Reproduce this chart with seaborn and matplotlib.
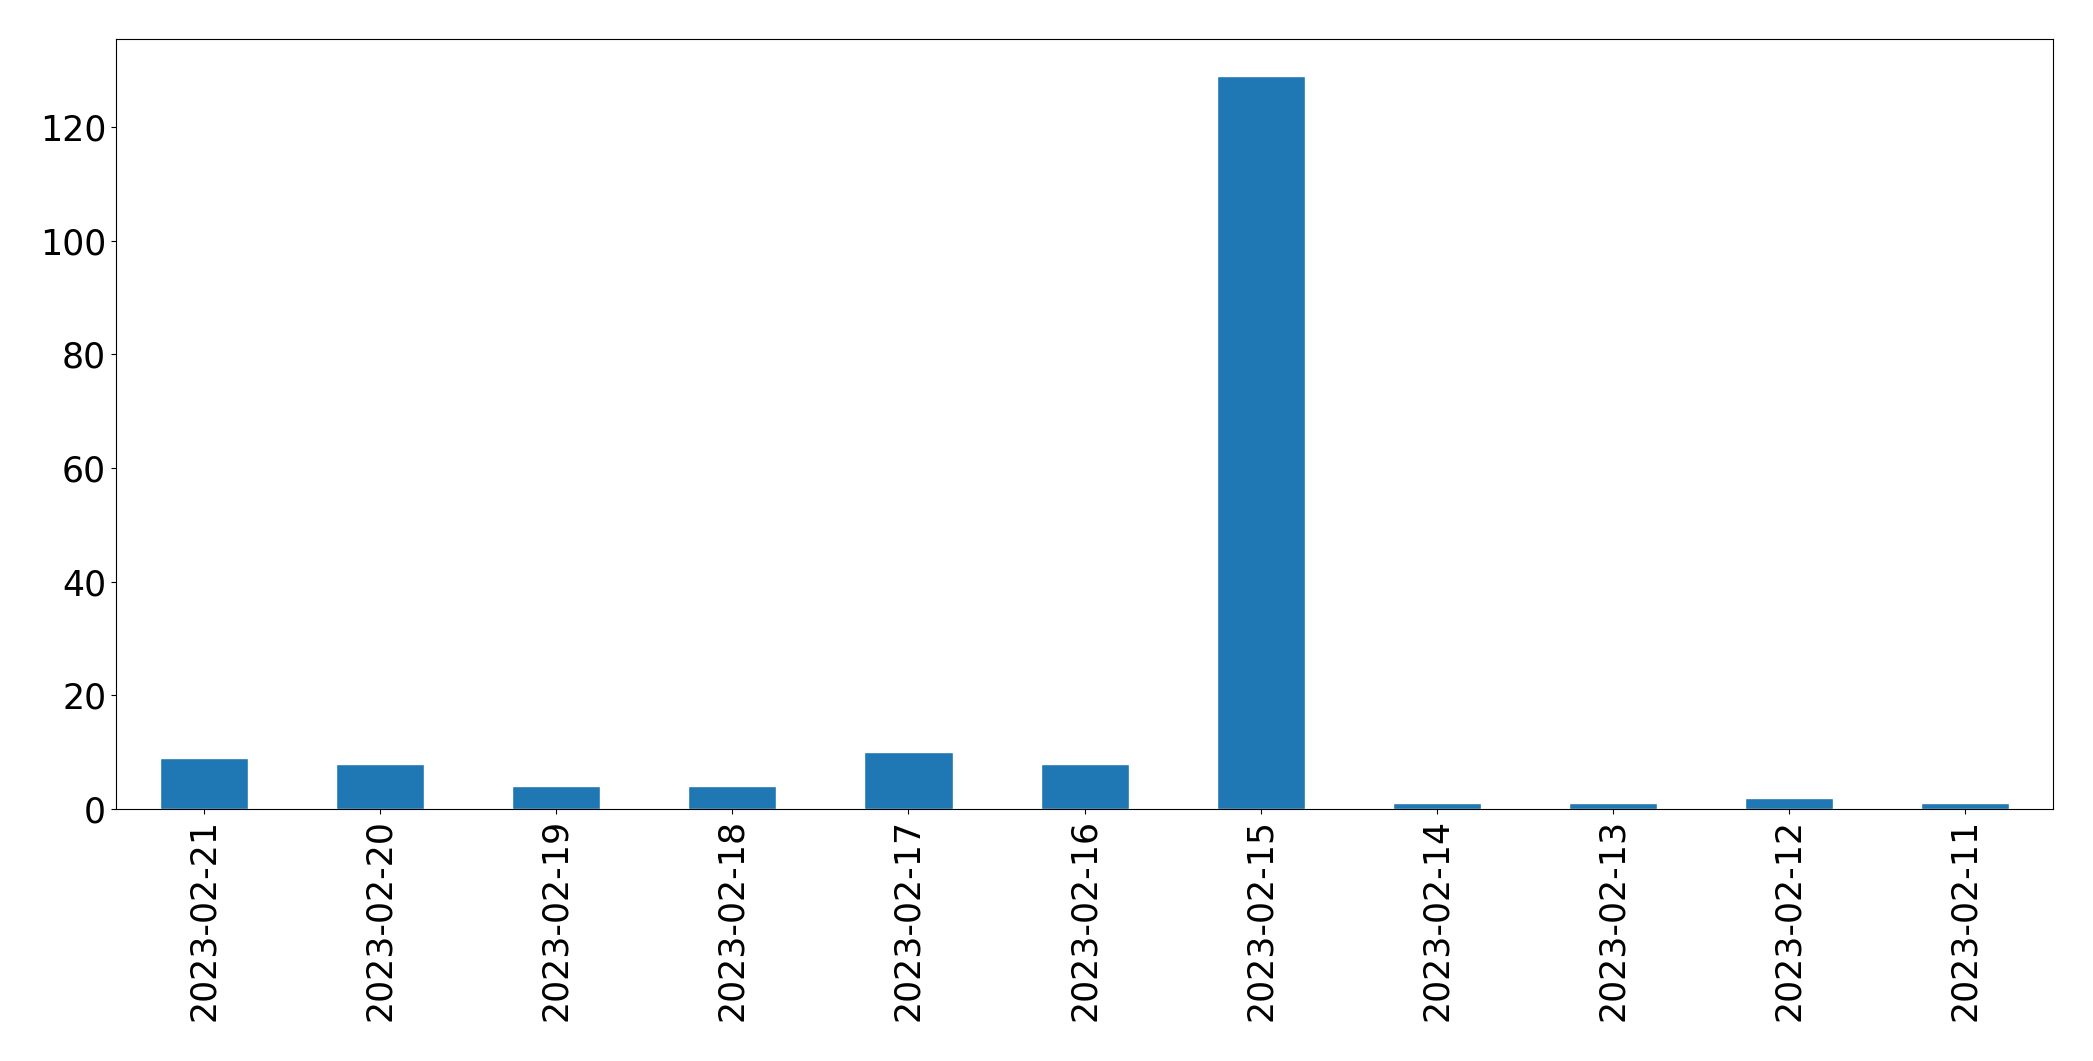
import pandas as pd
import matplotlib
matplotlib.use('Agg')
import matplotlib.pyplot as plt
import seaborn as sns

# daily counts, newest first
dates = ['2023-02-21', '2023-02-20', '2023-02-19', '2023-02-18', '2023-02-17',
         '2023-02-16', '2023-02-15', '2023-02-14', '2023-02-13', '2023-02-12',
         '2023-02-11']
counts = [9, 8, 4, 4, 10, 8, 129, 1, 1, 2, 1]

df = pd.DataFrame({'date': dates, 'count': counts})

sns.set_style('ticks')
plt.rcParams['font.family'] = ['DejaVu Sans']
plt.rcParams['text.color'] = 'black'
plt.rcParams['axes.edgecolor'] = 'black'
plt.rcParams['xtick.color'] = 'black'
plt.rcParams['ytick.color'] = 'black'
plt.rcParams['axes.labelcolor'] = 'black'

fig = plt.figure(figsize=(20.93, 10.61), dpi=100)
ax = fig.add_axes([0.0554, 0.2375, 0.9256, 0.7255])
sns.barplot(x='date', y='count', data=df, order=dates, color='#1f77b4',
            saturation=1, width=0.5, ax=ax)

ax.set_xlim(-0.5, len(dates) - 0.5)
ax.set_ylim(0, max(counts) * 1.05)
ax.set_yticks([0, 20, 40, 60, 80, 100, 120])
ax.set_xlabel('')
ax.set_ylabel('')
ax.tick_params(axis='x', labelrotation=90, labelsize=25, colors='black')
ax.tick_params(axis='y', labelsize=25, colors='black')
for s in ax.spines.values():
    s.set_visible(True)
    s.set_linewidth(0.8)
    s.set_color('black')

fig.savefig('out.png', dpi=100)
